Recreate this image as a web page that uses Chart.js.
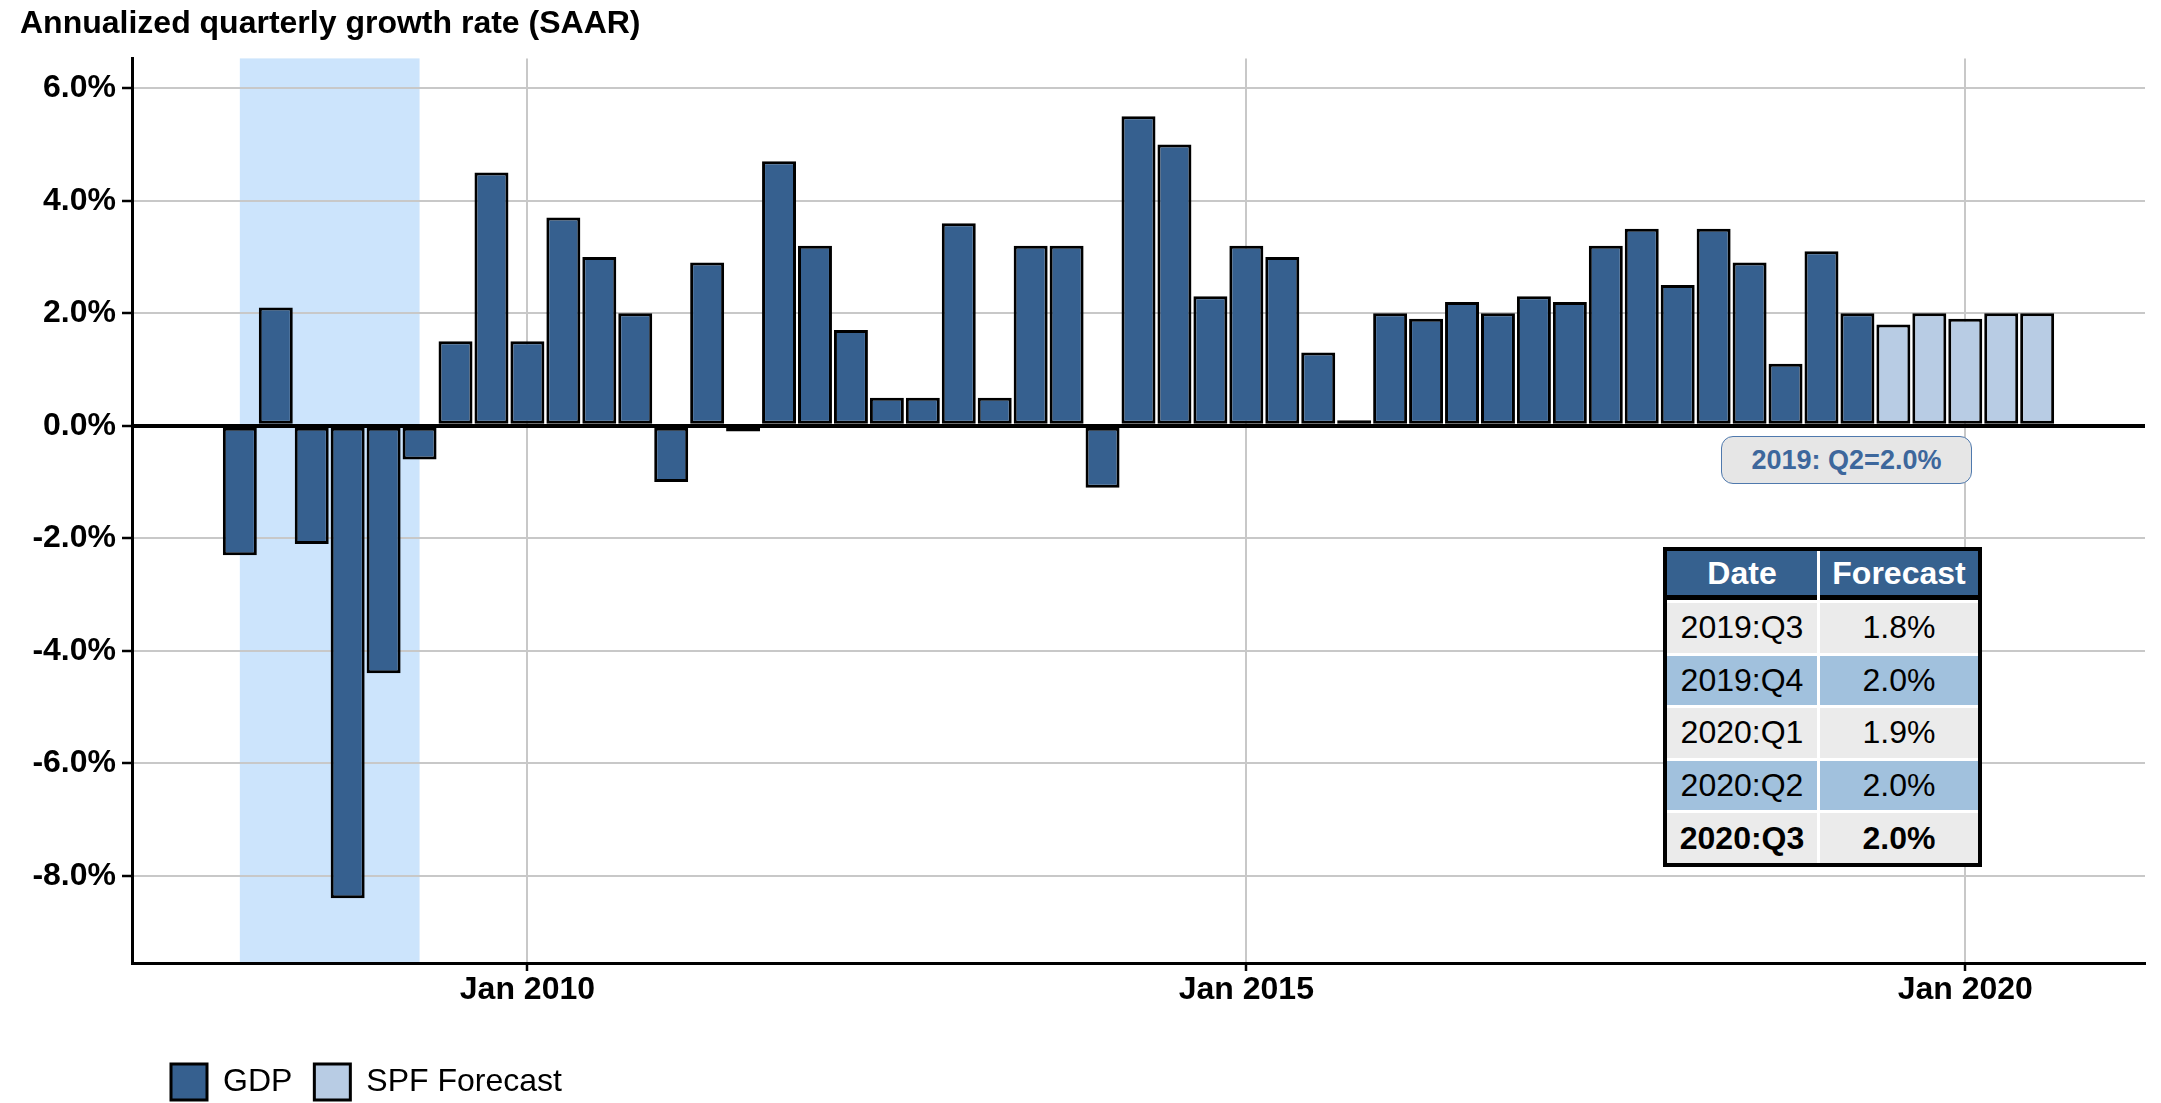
<!DOCTYPE html>
<html>
<head>
<meta charset="utf-8">
<script src="https://cdn.jsdelivr.net/npm/chart.js@4.4.1/dist/chart.umd.min.js"></script>
<style>
  body { margin: 0; background: #fff; }
  #wrap { position: relative; width: 2161px; height: 1103px; }
  #note {
    position: absolute; left: 1721px; top: 436px; width: 251px; height: 48px;
    box-sizing: border-box; background: #e6e6e6; border: 1.5px solid #4f79ad; border-radius: 12px;
    color: #3d679c; font: bold 27px 'Liberation Sans', Arial, sans-serif;
    display: flex; align-items: center; justify-content: center;
  }
  #tbl {
    position: absolute; left: 1663px; top: 547px; width: 319px; height: 320px;
    box-sizing: border-box; border: 4px solid #000; background: #fff;
    display: grid; grid-template-columns: 150px 1fr; grid-template-rows: 49px repeat(5, 1fr);
    column-gap: 3px; row-gap: 3px;
    font: 32px 'Liberation Sans', Arial, sans-serif; color: #000;
  }
  #tbl div { display: flex; align-items: center; justify-content: center; }
  #tbl .hd { background: #36618f; color: #fff; font-weight: bold; border-bottom: 5px solid #000; }
  #tbl .r0 { background: #ebebeb; }
  #tbl .r1 { background: #a1c1dd; }
  #tbl .last { font-weight: bold; }
</style>
</head>
<body>
<div id="wrap">
  <canvas id="chart" width="2161" height="1103"></canvas>
  <div id="note"></div>
  <div id="tbl"></div>
</div>
<script>
// quarterly GDP growth, SAAR %
var gdpPeriods = ['2008:Q1','2008:Q2','2008:Q3','2008:Q4','2009:Q1','2009:Q2','2009:Q3','2009:Q4',
                  '2010:Q1','2010:Q2','2010:Q3','2010:Q4','2011:Q1','2011:Q2','2011:Q3','2011:Q4',
                  '2012:Q1','2012:Q2','2012:Q3','2012:Q4','2013:Q1','2013:Q2','2013:Q3','2013:Q4',
                  '2014:Q1','2014:Q2','2014:Q3','2014:Q4','2015:Q1','2015:Q2','2015:Q3','2015:Q4',
                  '2016:Q1','2016:Q2','2016:Q3','2016:Q4','2017:Q1','2017:Q2','2017:Q3','2017:Q4',
                  '2018:Q1','2018:Q2','2018:Q3','2018:Q4','2019:Q1','2019:Q2'];
var gdpGrowth = [-2.3, 2.1, -2.1, -8.4, -4.4, -0.6, 1.5, 4.5,
                 1.5, 3.7, 3.0, 2.0, -1.0, 2.9, -0.1, 4.7,
                 3.2, 1.7, 0.5, 0.5, 3.6, 0.5, 3.2, 3.2,
                 -1.1, 5.5, 5.0, 2.3, 3.2, 3.0, 1.3, 0.1,
                 2.0, 1.9, 2.2, 2.0, 2.3, 2.2, 3.2, 3.5,
                 2.5, 3.5, 2.9, 1.1, 3.1, 2.0];

// SPF forecasts
var forecastPeriods = ['2019:Q3','2019:Q4','2020:Q1','2020:Q2','2020:Q3'];
var forecastGrowth = [1.8, 2.0, 1.9, 2.0, 2.0];

var recessionSpan = [2008.0, 2009.25];
var latestNote = '2019: Q2=2.0%';

function toYear(p) {
    var parts = p.split(':Q');
    return Number(parts[0]) + (Number(parts[1]) - 1) / 4;
}

// annotation + forecast table
document.getElementById('note').textContent = latestNote;
var tbl = document.getElementById('tbl');
var html = '<div class="hd">Date</div><div class="hd">Forecast</div>';
for (var i = 0; i < forecastPeriods.length; i++) {
    var cls = (i % 2 ? 'r1' : 'r0') + (i === forecastPeriods.length - 1 ? ' last' : '');
    html += '<div class="' + cls + '">' + forecastPeriods[i] + '</div>' +
            '<div class="' + cls + '">' + forecastGrowth[i].toFixed(1) + '%</div>';
}
tbl.innerHTML = html;

var recessionShade = {
    id: 'recessionShade',
    beforeDraw: function(chart) {
        var ctx = chart.ctx, area = chart.chartArea, x = chart.scales.x;
        var x0 = x.getPixelForValue(recessionSpan[0]);
        var x1 = x.getPixelForValue(recessionSpan[1]);
        ctx.save();
        ctx.fillStyle = 'rgb(204,228,252)';
        ctx.fillRect(x0, area.top, x1 - x0, area.bottom - area.top);
        ctx.restore();
    }
};

var legendPlacement = {
    id: 'legendPlacement',
    afterLayout: function(chart) {
        chart.legend.left = 149;
        chart.legend.top = 1042;
    }
};

Chart.defaults.font.family = "'Liberation Sans', Arial, sans-serif";
Chart.defaults.color = '#000';

var ctx = document.getElementById('chart').getContext('2d');
new Chart(ctx, {
    type: 'bar',
    data: {
        datasets: [{
            label: 'GDP',
            data: gdpPeriods.map(function(p, i) { return { x: toYear(p), y: gdpGrowth[i] }; }),
            backgroundColor: '#36608f',
            borderColor: '#000',
            borderWidth: 3,
            borderSkipped: false,
            grouped: false,
            categoryPercentage: 1.0,
            barPercentage: 0.945
        }, {
            label: 'SPF Forecast',
            data: forecastPeriods.map(function(p, i) { return { x: toYear(p), y: forecastGrowth[i] }; }),
            backgroundColor: '#b8cce4',
            borderColor: '#000',
            borderWidth: 3,
            borderSkipped: false,
            grouped: false,
            categoryPercentage: 1.0,
            barPercentage: 0.945
        }]
    },
    options: {
        responsive: false,
        animation: false,
        layout: { padding: { left: 20, right: 16, top: 0, bottom: 0 } },
        plugins: {
            title: {
                display: true,
                text: 'Annualized quarterly growth rate (SAAR)',
                align: 'start',
                font: { size: 32, weight: 'bold' },
                padding: { top: 5, bottom: 15 }
            },
            legend: {
                position: 'bottom',
                align: 'start',
                labels: {
                    boxWidth: 36,
                    boxHeight: 36,
                    padding: 22,
                    font: { size: 32 }
                }
            },
            tooltip: { enabled: false }
        },
        scales: {
            x: {
                type: 'linear',
                min: 2007.25,
                max: 2021.25,
                offset: false,
                grid: { offset: false, color: '#c8c8c8', lineWidth: 2, tickColor: '#000', tickLength: 8, tickWidth: 2.5 },
                border: { color: '#000', width: 3 },
                ticks: {
                    stepSize: 5,
                    includeBounds: false,
                    maxRotation: 0,
                    padding: 0,
                    font: { size: 32, weight: 'bold' },
                    callback: function(v) { return 'Jan ' + v; }
                },
                afterFit: function(scale) { scale.height = 72; }
            },
            y: {
                min: -9.55,
                max: 6.53,
                grid: {
                    color: function(c) { return c.tick && c.tick.value === 0 ? '#000' : '#c8c8c8'; },
                    lineWidth: function(c) { return c.tick && c.tick.value === 0 ? 4 : 2; },
                    tickColor: '#000',
                    tickLength: 10,
                    tickWidth: 2.5
                },
                border: { color: '#000', width: 3 },
                ticks: {
                    stepSize: 2,
                    includeBounds: false,
                    padding: 6,
                    font: { size: 32, weight: 'bold' },
                    callback: function(v) { return v.toFixed(1) + '%'; }
                },
                afterFit: function(scale) { scale.width = 112; }
            }
        }
    },
    plugins: [recessionShade, legendPlacement]
});
</script>
</body>
</html>
